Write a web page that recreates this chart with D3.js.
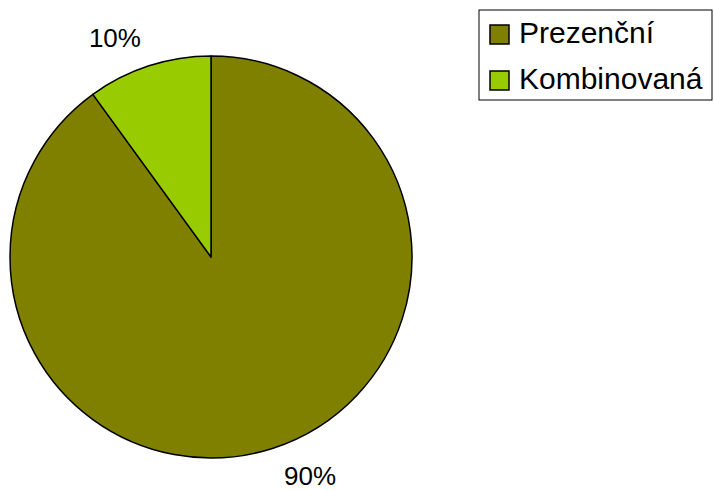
<!DOCTYPE html>
<html>
<head>
<meta charset="utf-8">
<script src="https://cdn.jsdelivr.net/npm/d3@7"></script>
<style>
  html, body { margin: 0; padding: 0; background: #ffffff; }
  svg { display: block; font-family: "Liberation Sans", Arial, sans-serif; }
</style>
</head>
<body>
<svg id="chart" width="714" height="490"></svg>
<script>
// Study form shares
const categories = ["Prezenční", "Kombinovaná"];
const values = [90, 10];
const colors = ["#808000", "#99CC00"];

const svg = d3.select("#chart");
const cx = 211, cy = 257, radius = 201;

const pie = d3.pie().sort(null).startAngle(0).endAngle(2 * Math.PI);
const arcs = pie(values);

const arc = d3.arc().innerRadius(0).outerRadius(radius);
const labelArc = d3.arc().innerRadius(230).outerRadius(230);

const g = svg.append("g").attr("transform", `translate(${cx},${cy})`);

g.selectAll("path.slice")
  .data(arcs)
  .join("path")
  .attr("class", "slice")
  .attr("d", arc)
  .attr("fill", (d, i) => colors[i])
  .attr("stroke", "#000")
  .attr("stroke-width", 1.5)
  .attr("stroke-linejoin", "round");

const total = d3.sum(values);
g.selectAll("text.pct")
  .data(arcs)
  .join("text")
  .attr("class", "pct")
  .each(function (d) {
    const [x, y] = labelArc.centroid(d);
    const left = x < 0;
    d3.select(this)
      .attr("x", x + (left ? 1 : 2))
      .attr("y", y)
      .attr("text-anchor", left ? "end" : "start");
  })
  .attr("dominant-baseline", "central")
  .attr("font-size", 26)
  .attr("fill", "#000")
  .text(d => Math.round(d.value / total * 100) + "%");

// Legend
const legend = svg.append("g").attr("transform", "translate(479,10)");
legend.append("rect")
  .attr("x", 0).attr("y", 0)
  .attr("width", 233).attr("height", 90)
  .attr("fill", "#fff")
  .attr("stroke", "#000")
  .attr("stroke-width", 1);

const items = legend.selectAll("g.item")
  .data(categories)
  .join("g")
  .attr("class", "item")
  .attr("transform", (d, i) => `translate(11,${15 + i * 46})`);

items.append("rect")
  .attr("width", 19).attr("height", 19)
  .attr("fill", (d, i) => colors[i])
  .attr("stroke", "#000")
  .attr("stroke-width", 1.5);

items.append("text")
  .attr("x", 29)
  .attr("y", 18)
  .attr("font-size", 30)
  .attr("fill", "#000")
  .text(d => d);
</script>
</body>
</html>
